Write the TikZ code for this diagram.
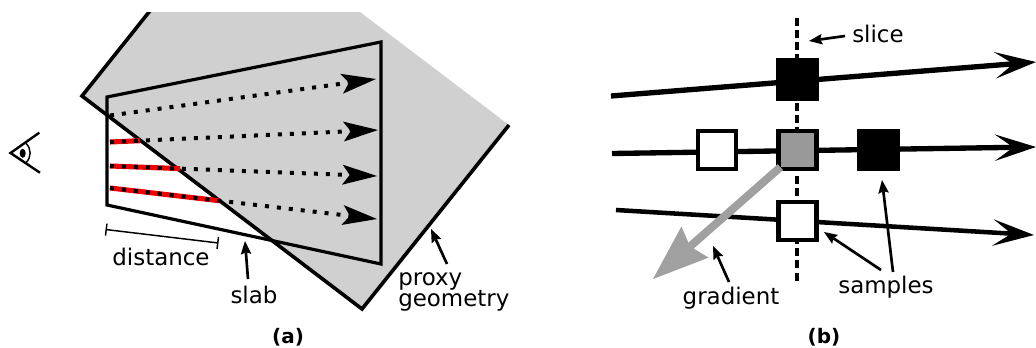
\documentclass[tikz,border=0pt]{standalone}
\usepackage{fontspec}
\setmainfont{DejaVu Sans}
\usetikzlibrary{arrows.meta}
\definecolor{proxygrey}{HTML}{D0D0D0}
\definecolor{graygrad}{HTML}{A0A0A0}
\definecolor{midgrey}{HTML}{999999}
\definecolor{rayred}{HTML}{F00000}
\tikzset{
  x=.75pt,y=-.75pt,
  lab/.style={font=\fontsize{17.2}{18}\selectfont,inner sep=0pt,anchor=base},
  panel/.style={font=\fontsize{15}{16}\selectfont\bfseries,inner sep=0pt,anchor=base},
  edgeline/.style={line width=2.7pt,line join=miter},
  slabline/.style={line width=2.4pt,line join=miter},
  raydot/.style={line width=3pt,dash pattern=on 3pt off 6pt,-{Stealth[length=26pt,width=15pt,inset=5.5pt,line width=0pt]}},
  rayred/.style={line width=3.8pt,color=rayred},
  small/.style={line width=2pt,-{Stealth[length=10pt,width=8pt,inset=1.5pt,line width=0pt]}},
  bray/.style={line width=4pt,-{Stealth[length=31pt,width=20pt,inset=14pt,line width=0pt]}},
  sq/.style={draw=black,line width=3.3pt,minimum size=28.7pt,inner sep=0pt,outer sep=0pt,rectangle},
}
\begin{document}
\begin{tikzpicture}
\useasboundingbox (0,0) rectangle (1036,347);
% panel (a)
\coordinate (pa) at (149,12);
\coordinate (pb) at (360,12);
\coordinate (pc) at (509,125);
\coordinate (pd) at (362,309);
\coordinate (pe) at (82,96);
\fill[proxygrey] (pa) -- (pb) -- (pc) -- (pd) -- (pe) -- cycle;
\begin{scope}
\clip (0,12) rectangle (1036,347);
\draw[edgeline] (152,8.25) -- (pe) -- (pd) -- (pc);
\end{scope}
\coordinate (sa) at (107,97);
\coordinate (sb) at (381,42);
\coordinate (sc) at (381,264);
\coordinate (sd) at (107,205);
\draw[slabline] (sa) -- (sb) -- (sc) -- (sd) -- cycle;
\coordinate (r1s) at (110,115.5);
\coordinate (r1e) at (376,79);
\coordinate (r2s) at (110,142);
\coordinate (r2e) at (378,130);
\coordinate (r2m) at (140,140.7);
\coordinate (r3s) at (110,166);
\coordinate (r3e) at (377,176);
\coordinate (r3m) at (180,168.6);
\coordinate (r4s) at (110,188);
\coordinate (r4e) at (377,219);
\coordinate (r4m) at (220,200.8);
\draw[rayred] (r2s) -- (r2m);
\draw[rayred] (r3s) -- (r3m);
\draw[rayred] (r4s) -- (r4m);
\draw[raydot] (r1s) -- (r1e);
\draw[raydot] (r2s) -- (r2e);
\draw[raydot] (r3s) -- (r3e);
\draw[raydot] (r4s) -- (r4e);
% eye
\coordinate (e1) at (39.3,132.7);
\coordinate (e2) at (10.5,153);
\coordinate (e3) at (40,172.7);
\draw[line width=1.8pt] (e1) -- (e2) -- (e3);
\draw[line width=1.1pt] (26,143.3) .. controls (31.5,149) and (31.5,157) .. (26,162.7);
\fill (22.7,153.3) ellipse [x radius=3,y radius=4.5];
% distance
\coordinate (d1) at (105.5,229.5);
\coordinate (d2) at (218.5,243);
\draw[line width=1.1pt,{Bar[width=9pt,line width=1.1pt]}-{Bar[width=9pt,line width=1.1pt]}] (d1) -- (d2);
\node[lab] (ldist) at (161,265) {distance};
\node[lab] (lslab) at (254,303) {slab};
\node[lab,anchor=base west] (lprox) at (398,285) {proxy};
\node[lab,anchor=base west] (lgeom) at (398,306) {geometry};
\coordinate (sl0) at (248,279);
\coordinate (sl1) at (245,241);
\draw[small] (sl0) -- (sl1);
\coordinate (pr0) at (447,264);
\coordinate (pr1) at (431,229);
\draw[small] (pr0) -- (pr1);
\node[panel] (la) at (288,343) {(a)};
% panel (b)
\coordinate (vt) at (797,18);
\coordinate (vb) at (797,281);
\draw[line width=3pt,dash pattern=on 6pt off 3.09pt] (vt) -- (vb);
\coordinate (b1s) at (611,96);
\coordinate (b1e) at (1036,62);
\coordinate (b2s) at (612,153.5);
\coordinate (b2e) at (1036,147);
\coordinate (b3s) at (616,210);
\coordinate (b3e) at (1034,235);
\draw[bray] (b1s) -- (b1e);
\draw[bray] (b2s) -- (b2e);
\draw[bray,line width=3.4pt] (b3s) -- (b3e);
\node[sq,fill=black] (q1) at (797.5,79.5) {};
\node[sq,fill=white] (q2) at (717,150) {};
\node[sq,fill=midgrey] (q3) at (797.5,150) {};
\node[sq,fill=black] (q4) at (878.5,150) {};
\node[sq,fill=white] (q5) at (797.5,221) {};
\coordinate (gt) at (653,279);
\draw[graygrad,line width=6pt,-{Stealth[length=42pt,width=31pt,inset=5pt,line width=0pt]}] (q3.south west) ++(2,-2) -- (gt);
\node[lab,anchor=base west] (lslice) at (852,42) {slice};
\node[lab] (lsamp) at (886,293) {samples};
\node[lab] (lgrad) at (731,304) {gradient};
\coordinate (a1s) at (845,36);
\coordinate (a1e) at (809,41);
\draw[small] (a1s) -- (a1e);
\coordinate (a2s) at (893,272);
\coordinate (a2e) at (882,180);
\draw[small] (a2s) -- (a2e);
\coordinate (a3s) at (881,270);
\coordinate (a3e) at (824,232);
\draw[small] (a3s) -- (a3e);
\coordinate (a4s) at (729,282);
\coordinate (a4e) at (713,246);
\draw[small] (a4s) -- (a4e);
\node[panel] (lb) at (824,343) {(b)};
\end{tikzpicture}
\end{document}
